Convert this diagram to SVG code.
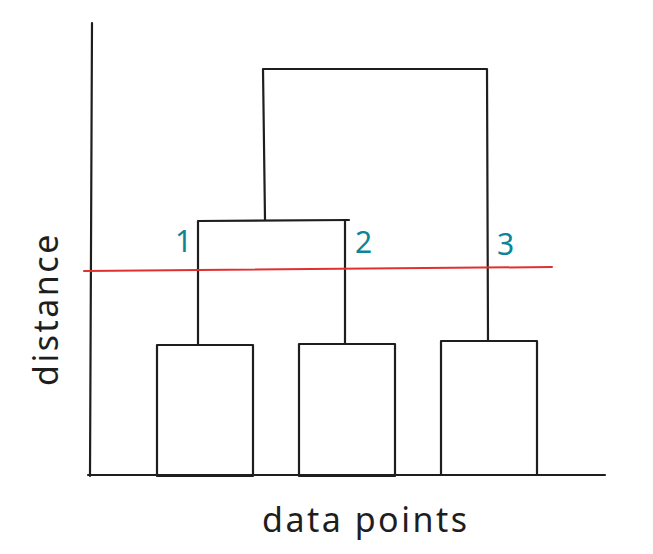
<svg xmlns="http://www.w3.org/2000/svg" width="653" height="554" viewBox="0 0 653 554">
<style>
.ln{fill:none;stroke:#1e1e1e;stroke-width:2.2;stroke-linecap:round;stroke-linejoin:round}
.red{fill:none;stroke:#e03131;stroke-width:2;stroke-linecap:round}
.num{font-family:"Noto Sans",sans-serif;font-size:30px;fill:#0c8599}
.lab{font-family:"Noto Sans",sans-serif;font-size:34px;fill:#1e1e1e;letter-spacing:2.5px}
</style>
<rect width="653" height="554" fill="#ffffff"/>
<g id="axes">
<path class="ln" d="M92 23 L90 476"/>
<path class="ln" d="M88 475 L605 475"/>
</g>
<g id="leaf1"><rect class="ln" x="157" y="345" width="96" height="131"/></g>
<g id="leaf2"><rect class="ln" x="299" y="344" width="96" height="132"/></g>
<g id="leaf3"><rect class="ln" x="441" y="341" width="96" height="134"/></g>
<g id="connectors">
<path class="ln" d="M198 345 L198 221 L349 220"/>
<path class="ln" d="M345 344 L345 220"/>
<path class="ln" d="M265 220 L263 69 L487 69 L488 340"/>
</g>
<g id="cut"><path class="red" d="M84 271 L552 267"/></g>
<g id="labels">
<text class="num" x="175" y="252">1</text>
<text class="num" x="355" y="253">2</text>
<text class="num" x="497" y="255">3</text>
<text class="lab" x="262" y="532">data points</text>
<text class="lab" transform="translate(58 386) rotate(-90)">distance</text>
</g>
</svg>
